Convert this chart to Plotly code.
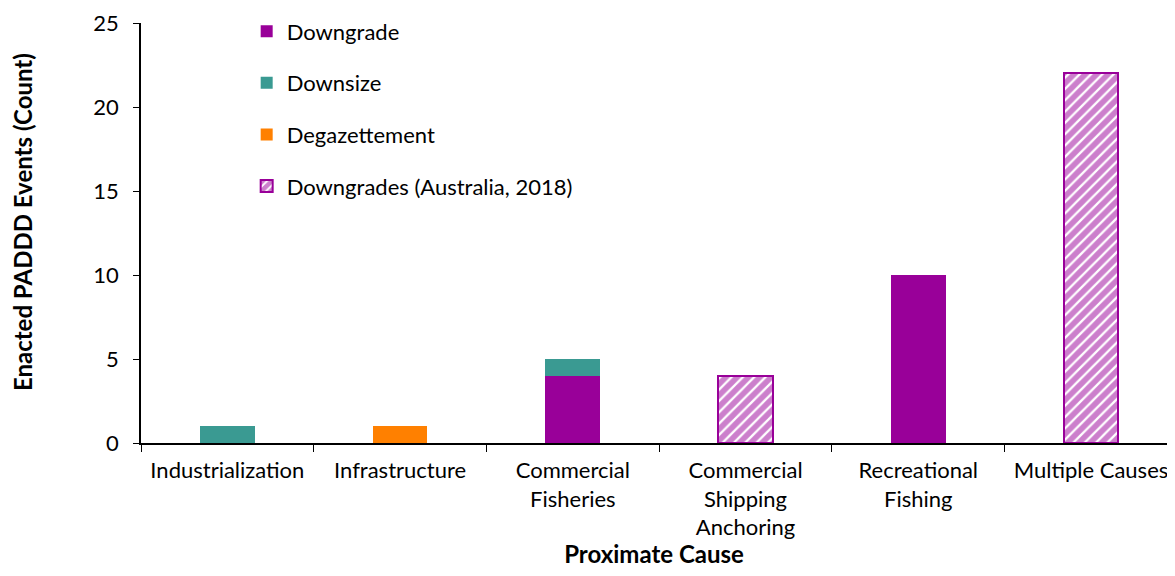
import plotly.graph_objects as go

categories = ["Industrialization", "Infrastructure", "Commercial<br>Fisheries",
              "Commercial<br>Shipping<br>Anchoring", "Recreational<br>Fishing", "Multiple Causes"]
downgrade = [0, 0, 4, 0, 10, 0]
downsize = [1, 0, 1, 0, 0, 0]
degazettement = [0, 1, 0, 0, 0, 0]
downgrades_aus = [0, 0, 0, 4, 0, 22]

PURPLE = "#990099"
TEAL = "#3A9A92"
ORANGE = "#FF8000"
FONT = "Lato"


def nz(vals):
    return [v if v else None for v in vals]


fig = go.Figure()
fig.add_trace(go.Bar(name="Downgrade", x=categories, y=nz(downgrade), marker_color=PURPLE,
                     marker_line_width=0, legendgroup="a"))
fig.add_trace(go.Bar(name="Downsize", x=categories, y=nz(downsize), marker_color=TEAL,
                     marker_line_width=0, legendgroup="b"))
fig.add_trace(go.Bar(name="Degazettement", x=categories, y=nz(degazettement), marker_color=ORANGE,
                     marker_line_width=0, legendgroup="c"))
fig.add_trace(go.Bar(name="Downgrades (Australia, 2018)", x=categories, y=nz(downgrades_aus),
                     marker=dict(color="white", line=dict(color=PURPLE, width=2),
                                 pattern=dict(shape="/", fgcolor=PURPLE, bgcolor="white",
                                              size=8, solidity=0.72)),
                     legendgroup="d"))

fig.update_layout(
    width=1159, height=560,
    barmode="stack", bargap=0.683,
    plot_bgcolor="white", paper_bgcolor="white",
    font=dict(family=FONT, size=22, color="#000000"),
    margin=dict(l=133, r=0, t=15, b=125),
    legend=dict(x=0.103, y=1.03, xanchor="left", yanchor="top",
                traceorder="grouped", tracegroupgap=20,
                font=dict(family=FONT, size=22), bgcolor="rgba(0,0,0,0)"),
    xaxis=dict(range=[-0.5, 5.44], showline=True, linecolor="black", linewidth=1.5,
               ticks="outside", tickson="boundaries", ticklen=7, tickcolor="black",
               tickfont=dict(family=FONT, size=22), ticklabelstandoff=7, automargin=False,
               title=dict(text="<b>Proximate Cause</b>", font=dict(family=FONT, size=24), standoff=15)),
    yaxis=dict(range=[0, 25], dtick=5, showline=True, linecolor="black", linewidth=1.5,
               ticks="outside", ticklen=6, tickcolor="black", showgrid=False, zeroline=False,
               tickfont=dict(family=FONT, size=22), ticklabelstandoff=10, automargin=False),
    annotations=[dict(text="<b>Enacted PADDD Events (Count)</b>", textangle=-90,
                      xref="paper", yref="paper", x=-119 / 1026, y=0.526,
                      xanchor="center", yanchor="middle", showarrow=False,
                      font=dict(family=FONT, size=24))],
)

fig.write_html("out.html")
